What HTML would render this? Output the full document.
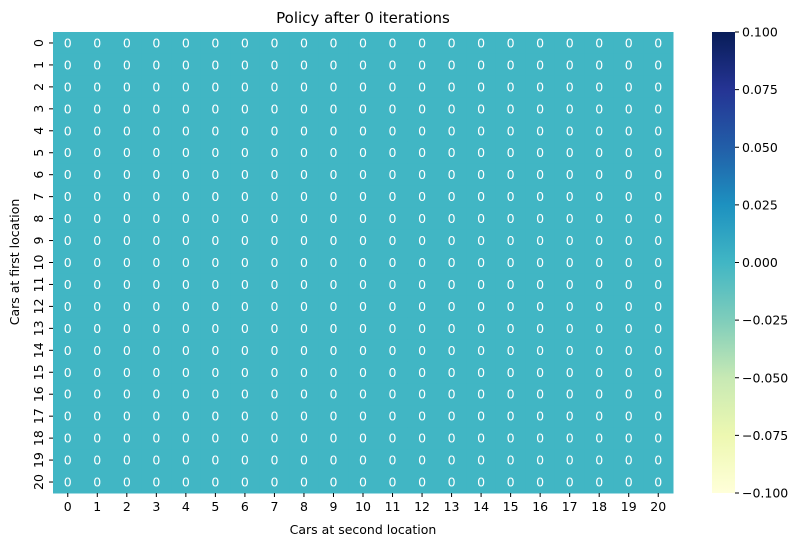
<!DOCTYPE html>
<html><head><meta charset="utf-8"><style>
body{margin:0;background:#fff;font-family:"Liberation Sans","DejaVu Sans",sans-serif}
svg text{font-family:"DejaVu Sans","Liberation Sans",sans-serif}
</style></head><body>
<svg id="c" width="805" height="547" xmlns="http://www.w3.org/2000/svg">
<defs><linearGradient id="g" x1="0" y1="1" x2="0" y2="0">
<stop offset="0" stop-color="#ffffd9"/><stop offset="0.125" stop-color="#edf8b1"/><stop offset="0.25" stop-color="#c7e9b4"/><stop offset="0.375" stop-color="#7fcdbb"/><stop offset="0.5" stop-color="#41b6c4"/><stop offset="0.625" stop-color="#1d91c0"/><stop offset="0.75" stop-color="#225ea8"/><stop offset="0.875" stop-color="#253494"/><stop offset="1" stop-color="#081d58"/></linearGradient></defs>
<text x="363" y="23" font-size="15" text-anchor="middle">Policy after 0 iterations</text>
<g id="cells"></g><g id="ticks"></g>
<rect x="712" y="32" width="23" height="461" fill="url(#g)"/>
<g id="cb"></g>
<text x="363" y="534" font-size="12.5" text-anchor="middle">Cars at second location</text>
<text transform="translate(19,262) rotate(-90)" font-size="12.5" text-anchor="middle">Cars at first location</text>
</svg>
<script>
const rowsCats=[0,1,2,3,4,5,6,7,8,9,10,11,12,13,14,15,16,17,18,19,20];
const colsCats=[0,1,2,3,4,5,6,7,8,9,10,11,12,13,14,15,16,17,18,19,20];
const values=rowsCats.map(()=>colsCats.map(()=>0));
const cbTicks=[0.1,0.075,0.05,0.025,0,-0.025,-0.05,-0.075,-0.1];
const vmin=-0.1,vmax=0.1;
const X0=53,X1=673,Y0=32,Y1=493,NS="http://www.w3.org/2000/svg";
const cw=(X1-X0)/colsCats.length,ch=(Y1-Y0)/rowsCats.length;
const xs=i=>X0+i*cw, ys=j=>Y0+j*ch, cy=v=>Y1-(v-vmin)/(vmax-vmin)*(Y1-Y0);
const stops=[[0,[255,255,217]],[.125,[237,248,177]],[.25,[199,233,180]],[.375,[127,205,187]],[.5,[65,182,196]],[.625,[29,145,192]],[.75,[34,94,168]],[.875,[37,52,148]],[1,[8,29,88]]];
function col(v){let t=(v-vmin)/(vmax-vmin);t=Math.max(0,Math.min(1,t));for(let k=1;k<stops.length;k++){if(t<=stops[k][0]){const a=stops[k-1],b=stops[k],f=(t-a[0])/(b[0]-a[0]);return 'rgb('+a[1].map((c,i)=>Math.round(c+(b[1][i]-c)*f)).join(',')+')';}}return 'rgb(8,29,88)';}
function el(t,a,p){const e=document.createElementNS(NS,t);for(const k in a)e.setAttribute(k,a[k]);p.appendChild(e);return e;}
const cells=document.getElementById('cells'),tk=document.getElementById('ticks'),cb=document.getElementById('cb');
values.forEach((row,j)=>row.forEach((v,i)=>{
 const r=el('rect',{x:xs(i),y:ys(j),width:cw+0.5,height:ch+0.5,fill:col(v)},cells);
 
 
 const t=el('text',{x:xs(i)+cw/2,y:ys(j)+ch/2+4.5,'font-size':12.5,'text-anchor':'middle',fill:'#fff'},cells);
 
 
 t.textContent=String(v);
}));
colsCats.forEach((c,i)=>{const x=xs(i)+cw/2;el('line',{x1:x,x2:x,y1:Y1,y2:Y1+4,stroke:'#000'},tk);
 const t=el('text',{x:x,y:Y1+18,'font-size':12.5,'text-anchor':'middle'},tk);
 
 
 t.textContent=c;});
rowsCats.forEach((c,j)=>{const y=ys(j)+ch/2;el('line',{x1:X0-4,x2:X0,y1:y,y2:y,stroke:'#000'},tk);
 const t=el('text',{transform:`translate(${X0-10},${y}) rotate(-90)`,'font-size':12.5,'text-anchor':'middle'},tk);
 
 
 t.textContent=c;});
cbTicks.forEach(v=>{const y=cy(v);el('line',{x1:735,x2:739,y1:y,y2:y,stroke:'#000'},cb);
 const t=el('text',{x:742,y:y+4.5,'font-size':12.5},cb);
 
 
 t.textContent=(v<0?'\u2212':'')+Math.abs(v).toFixed(3);});
</script>
</body></html>
